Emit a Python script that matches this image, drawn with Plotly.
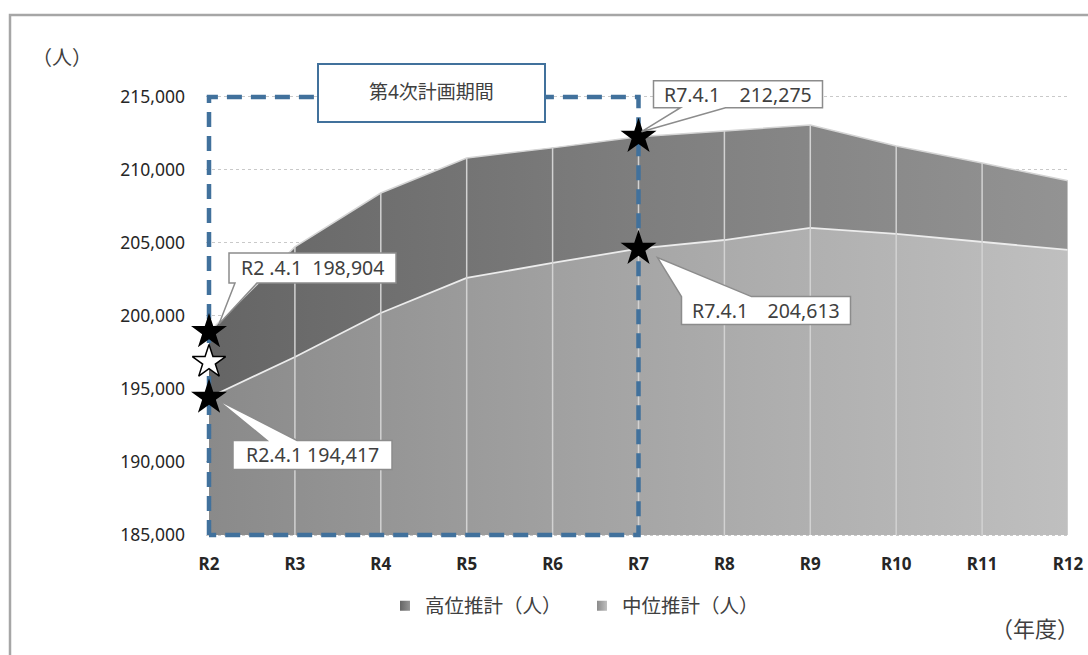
import plotly.graph_objects as go

# ---- data -------------------------------------------------------------
years = ["R2", "R3", "R4", "R5", "R6", "R7", "R8", "R9", "R10", "R11", "R12"]
high_est = [198904, 204730, 208420, 210820, 211510, 212275, 212670, 213080, 211640, 210480, 209250]
mid_est = [194417, 197190, 200200, 202600, 203630, 204613, 205200, 206030, 205620, 205070, 204520]

series_names = ["高位推計（人）", "中位推計（人）"]
plan_label = "第4次計画期間"
plan_start, plan_end = "R2", "R7"

# highlighted points (filled stars) and the extra open star at R2
star_years = ["R2", "R2", "R7", "R7"]
star_values = [198904, 194417, 212275, 204613]
open_star_year = "R2"
open_star_value = 196850

y_floor, y_tick_top, y_step = 185000, 215000, 5000

# ---- page geometry ----------------------------------------------------
W, H = 1088, 655
M_L, M_R, M_T, M_B = 206, 20, 75, 117
PLOT_W = W - M_L - M_R
PLOT_H = H - M_T - M_B
PAD = 3                      # px of breathing room so the dashed frame is not cut
X_UNIT = (PLOT_W - PAD) / (len(years) - 1)
Y_UNIT = (PLOT_H - PAD) / (y_tick_top - y_floor + 1500)
x_range = [-PAD / X_UNIT, len(years) - 1]
y_range = [y_floor - PAD / Y_UNIT, y_tick_top + 1500]


def paper_x(px):
    return (px - M_L) / PLOT_W


def paper_y(py):
    return (H - M_B - py) / PLOT_H


FONT = "Noto Sans, Noto Sans CJK JP, sans-serif"
TXT = "#404040"
BLUE = "#41719C"
CALLOUT_EDGE = "#8c8c8c"
HIGH_SCALE = [[0, "#656565"], [0.5, "#7e7e7e"], [1, "#939393"]]
MID_SCALE = [[0, "#8a8a8a"], [0.5, "#a6a6a6"], [1, "#bfbfbf"]]

fig = go.Figure()
baseline = [y_floor] * len(years)

# high estimate band (filled down to the axis floor)
fig.add_trace(go.Scatter(x=years, y=baseline, mode="lines", line=dict(width=0),
                         showlegend=False, hoverinfo="skip"))
fig.add_trace(go.Scatter(
    x=years, y=high_est, name=series_names[0], mode="lines", showlegend=False,
    line=dict(color="#d4d4d4", width=1.5),
    fill="tonexty", fillgradient=dict(type="horizontal", colorscale=HIGH_SCALE),
    hoverinfo="skip",
))
# mid estimate band in front
fig.add_trace(go.Scatter(x=years, y=baseline, mode="lines", line=dict(width=0),
                         showlegend=False, hoverinfo="skip"))
fig.add_trace(go.Scatter(
    x=years, y=mid_est, name=series_names[1], mode="lines", showlegend=False,
    line=dict(color="#ececec", width=1.8),
    fill="tonexty", fillgradient=dict(type="horizontal", colorscale=MID_SCALE),
    hoverinfo="skip",
))

# light vertical separators at each year, up to the top of the band
sep_x, sep_y = [], []
for yr, v in zip(years[1:], high_est[1:]):
    sep_x += [yr, yr, None]
    sep_y += [y_floor, v, None]
fig.add_trace(go.Scatter(
    x=sep_x, y=sep_y, mode="lines", showlegend=False, hoverinfo="skip",
    line=dict(color="#d2d2d2", width=1.5),
))

# dashed frame marking the plan period
fig.add_trace(go.Scatter(
    x=[plan_start, plan_start, plan_end, plan_end, plan_start],
    y=[y_floor, y_tick_top, y_tick_top, y_floor, y_floor],
    mode="lines", showlegend=False, hoverinfo="skip",
    line=dict(color=BLUE, width=4.5, dash="15px,9px"),
))

# stars
fig.add_trace(go.Scatter(
    x=[open_star_year], y=[open_star_value], mode="markers", showlegend=False,
    hoverinfo="skip", cliponaxis=False,
    marker=dict(symbol="star", size=25, color="white", line=dict(color="black", width=1.5)),
))
fig.add_trace(go.Scatter(
    x=star_years, y=star_values, mode="markers", showlegend=False,
    hoverinfo="skip", cliponaxis=False,
    marker=dict(symbol="star", size=27, color="black", line=dict(color="black", width=0)),
))

# legend entries: small shaded squares
for name, scale in zip(series_names, [HIGH_SCALE, MID_SCALE]):
    fig.add_trace(go.Scatter(
        x=[None], y=[None], mode="markers", name=name, hoverinfo="skip",
        marker=dict(symbol="square", size=10, color=scale[0][1],
                    gradient=dict(type="horizontal", color=scale[-1][1])),
    ))

# ---- callouts: box + pointer outline in pixels around the data point ----
callouts = [
    # (year, value, text, path in px relative to point (y up), text centre offset)
    (star_years[0], star_values[0], f"R2 .4.1  {star_values[0]:,}",
     "M 20,79 L 187,79 L 187,49 L 48,49 L 10,8 L 26,49 L 20,49 Z", (103.5, 64)),
    (star_years[1], star_values[1], f"R2.4.1 {star_values[1]:,}",
     "M 24,-43 L 58,-43 L 8,-2 L 88,-43 L 183,-43 L 183,-72 L 24,-72 Z", (103.5, -57.5)),
    (star_years[2], star_values[2], f"R7.4.1　{star_values[2]:,}",
     "M 15,56 L 184,56 L 184,29 L 87,29 L 3,5 L 42,29 L 15,29 Z", (99.5, 42.5)),
    (star_years[3], star_values[3], f"R7.4.1　{star_values[3]:,}",
     "M 43,-48 L 19,-9 L 113,-48 L 212,-48 L 212,-76 L 43,-76 Z", (127.5, -62)),
]
shapes = []
annotations = []
for yr, v, label, path, (dx, dy) in callouts:
    shapes.append(dict(
        type="path", xref="x", yref="y", xsizemode="pixel", ysizemode="pixel",
        xanchor=yr, yanchor=v, path=path, layer="above",
        fillcolor="white", line=dict(color=CALLOUT_EDGE, width=1.5),
    ))
    annotations.append(dict(
        xref="x", yref="y", x=yr, y=v, xshift=dx, yshift=dy, text=label,
        xanchor="center", yanchor="middle",
        showarrow=False, font=dict(family=FONT, size=19.5, color=TXT),
    ))

# plan period title box
shapes.append(dict(
    type="rect", xref="paper", yref="paper",
    x0=paper_x(318), x1=paper_x(545), y0=paper_y(122), y1=paper_y(64),
    fillcolor="white", line=dict(color=BLUE, width=2), layer="above",
))
annotations.append(dict(
    xref="paper", yref="paper", x=paper_x(431), y=paper_y(92), text=plan_label,
    xanchor="center", yanchor="middle",
    showarrow=False, font=dict(family=FONT, size=19, color=TXT),
))

# outer chart frame
shapes.append(dict(
    type="rect", xref="paper", yref="paper",
    x0=paper_x(10), x1=paper_x(W + 40), y0=paper_y(H + 40), y1=paper_y(15),
    line=dict(color="#a6a6a6", width=2.5), fillcolor="rgba(0,0,0,0)", layer="below",
))

# unit labels
annotations.append(dict(
    xref="paper", yref="paper", x=paper_x(62), y=paper_y(57), text="（人）",
    xanchor="center", yanchor="middle",
    showarrow=False, font=dict(family=FONT, size=20, color=TXT),
))
annotations.append(dict(
    xref="paper", yref="paper", x=paper_x(1035), y=paper_y(628), text="（年度）",
    xanchor="center", yanchor="middle",
    showarrow=False, font=dict(family=FONT, size=22, color=TXT),
))

fig.update_layout(
    width=W, height=H,
    margin=dict(l=M_L, r=M_R, t=M_T, b=M_B),
    paper_bgcolor="white", plot_bgcolor="white",
    font=dict(family=FONT, color=TXT),
    shapes=shapes, annotations=annotations,
    legend=dict(
        orientation="h", traceorder="normal",
        x=paper_x(385), xanchor="left", y=paper_y(606), yanchor="middle",
        font=dict(family=FONT, size=19.5, color=TXT),
        entrywidth=152, entrywidthmode="pixels",
        bgcolor="rgba(0,0,0,0)",
    ),
    hovermode=False,
)
fig.update_xaxes(
    type="category", range=x_range, automargin=False,
    showgrid=False, zeroline=False, showline=False,
    ticks="", ticklabelstandoff=14,
    tickfont=dict(family=FONT, size=17, color="#262626", weight="bold"),
)
fig.update_yaxes(
    range=y_range, tick0=y_floor, dtick=y_step, tickformat=",", automargin=False,
    showgrid=True, gridcolor="#c9c9c9", griddash="dot", gridwidth=1,
    zeroline=False, showline=False, ticks="", ticklabelstandoff=20,
    tickfont=dict(family=FONT, size=17.5, color="#262626"),
)

fig.write_html("out.html")
